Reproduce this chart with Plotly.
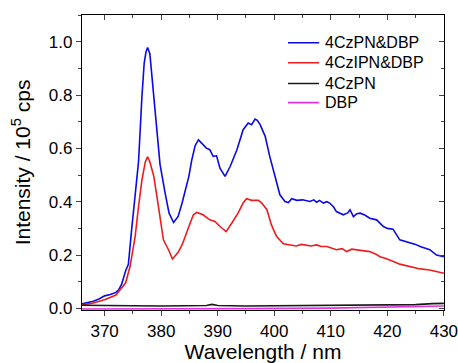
import plotly.graph_objects as go

# ---- data ----
wl_blue = [366.0, 367.0, 368.0, 369.0, 370.0, 371.0, 372.0, 372.5, 373.0, 373.7, 374.2, 374.8, 375.4, 376.0,
           376.6, 377.0, 377.3, 377.6, 378.0, 378.4, 379.0, 379.8, 380.7, 381.4, 382.2, 383.0, 383.7, 384.9,
           385.4, 386.0, 386.6, 387.2, 388.0, 388.6, 389.2, 389.8, 390.4, 391.3, 392.2, 393.4, 394.5, 395.4,
           396.0, 396.6, 397.0, 397.5, 398.4, 399.2, 400.1, 401.0, 401.9, 402.5, 403.1, 404.0, 405.0, 406.3,
           407.0, 407.5, 408.0, 408.7, 409.3, 409.8, 410.5, 411.0, 412.2, 413.0, 413.4, 414.0, 414.6, 415.2,
           416.0, 416.9, 418.1, 419.3, 420.0, 421.0, 422.2, 423.0, 424.0, 425.0, 425.8, 427.0, 427.5, 428.7,
           429.5, 430.0]
int_blue = [0.017, 0.022, 0.027, 0.035, 0.047, 0.052, 0.060, 0.070, 0.090, 0.140, 0.165, 0.300, 0.430, 0.550,
            0.795, 0.920, 0.960, 0.978, 0.955, 0.860, 0.707, 0.540, 0.432, 0.357, 0.322, 0.345, 0.395, 0.495,
            0.555, 0.610, 0.632, 0.620, 0.601, 0.595, 0.570, 0.572, 0.526, 0.495, 0.532, 0.595, 0.670, 0.695,
            0.689, 0.710, 0.705, 0.689, 0.645, 0.570, 0.495, 0.426, 0.401, 0.397, 0.411, 0.405, 0.407, 0.401,
            0.407, 0.398, 0.405, 0.395, 0.400, 0.395, 0.380, 0.363, 0.351, 0.358, 0.370, 0.344, 0.355, 0.357,
            0.350, 0.338, 0.332, 0.307, 0.300, 0.297, 0.257, 0.252, 0.245, 0.240, 0.232, 0.225, 0.220, 0.200,
            0.198, 0.194]

wl_red = [366.0, 368.0, 370.0, 371.0, 372.0, 372.5, 373.7, 374.5, 375.4, 376.0, 376.6, 377.2, 377.6, 378.0,
          378.7, 379.6, 380.4, 381.3, 382.0, 383.0, 383.7, 384.9, 385.7, 386.3, 387.4, 388.6, 389.5, 390.4,
          391.5, 392.5, 393.6, 394.5, 395.1, 396.0, 397.2, 397.8, 398.7, 399.5, 400.4, 401.6, 402.8, 403.9,
          404.8, 405.7, 406.5, 407.5, 408.3, 409.3, 410.2, 411.0, 412.0, 412.8, 413.7, 414.6, 415.8, 416.9,
          418.0, 418.7, 419.6, 420.5, 421.3, 422.2, 423.0, 424.0, 425.0, 425.8, 427.5, 428.7, 430.0]
int_red = [0.013, 0.020, 0.032, 0.040, 0.050, 0.063, 0.095, 0.157, 0.270, 0.382, 0.482, 0.550, 0.568, 0.550,
           0.495, 0.370, 0.257, 0.220, 0.185, 0.210, 0.238, 0.307, 0.351, 0.360, 0.351, 0.332, 0.326, 0.307,
           0.288, 0.320, 0.357, 0.395, 0.411, 0.405, 0.405, 0.395, 0.370, 0.313, 0.270, 0.242, 0.238, 0.234,
           0.240, 0.238, 0.234, 0.238, 0.232, 0.232, 0.225, 0.220, 0.224, 0.213, 0.222, 0.220, 0.216, 0.213,
           0.203, 0.194, 0.188, 0.179, 0.174, 0.166, 0.162, 0.157, 0.152, 0.148, 0.144, 0.138, 0.132]

wl_black = [366, 370, 375, 380, 385, 388, 389, 390, 395, 400, 405, 407, 410, 415, 420, 425, 428, 430]
int_black = [0.012, 0.010, 0.010, 0.009, 0.010, 0.011, 0.015, 0.011, 0.009, 0.010, 0.010, 0.013, 0.011,
             0.012, 0.013, 0.014, 0.018, 0.019]

wl_pink = [366, 380, 395, 410, 420, 430]
int_pink = [-0.002, -0.002, -0.001, 0.001, 0.004, 0.009]

names = ["4CzPN&DBP", "4CzIPN&DBP", "4CzPN", "DBP"]
colors = ["#0a0ae6", "#ee1c1c", "#1a1a1a", "#e033e0"]

x_ticks = [370, 380, 390, 400, 410, 420, 430]
y_ticks = [0.0, 0.2, 0.4, 0.6, 0.8, 1.0]

FONT = "Liberation Sans, Arial, sans-serif"

fig = go.Figure()
for wl, inten, nm, col in zip([wl_blue, wl_red, wl_black, wl_pink],
                              [int_blue, int_red, int_black, int_pink], names, colors):
    fig.add_trace(go.Scatter(x=wl, y=inten, mode="lines", name=nm, showlegend=False,
                             line=dict(color=col, width=1.6)))

# dummy trace for top/right mirrored axes with inward ticks
fig.add_trace(go.Scatter(x=[400], y=[0.5], xaxis="x2", yaxis="y2", mode="markers",
                         marker=dict(opacity=0), showlegend=False, hoverinfo="skip"))

# manual legend (line samples + labels), positioned in plot-area fractions
leg_x0, leg_x1, leg_tx = 0.569, 0.655, 0.666
leg_rows = [0.906, 0.838, 0.768, 0.703]
for nm, col, yy in zip(names, colors, leg_rows):
    fig.add_shape(type="line", xref="paper", yref="paper", x0=leg_x0, x1=leg_x1, y0=yy, y1=yy,
                  line=dict(color=col, width=1.6))
    fig.add_annotation(xref="paper", yref="paper", x=leg_tx, y=yy, text=nm, showarrow=False,
                       xanchor="left", yanchor="middle", font=dict(size=16, family=FONT, color="black"))

xr = [366, 430.02]
yr = [-0.006, 1.1]

fig.update_layout(
    width=458, height=363,
    margin=dict(l=82, r=14, t=15, b=53),
    paper_bgcolor="white", plot_bgcolor="white",
    font=dict(family=FONT, color="black"),
    showlegend=False,
    xaxis=dict(range=xr, tickvals=x_ticks, ticks="outside", ticklen=5, tickwidth=1,
               tickfont=dict(size=17), showgrid=False, zeroline=False, automargin=False,
               ticklabeloverflow="allow",
               showline=True, linecolor="black", linewidth=1.2, layer="below traces",
               minor=dict(dtick=5, tick0=365, ticks="outside", ticklen=3),
               title=dict(text="Wavelength / nm", font=dict(size=21), standoff=4)),
    yaxis=dict(range=yr, tickvals=y_ticks, tickformat=".1f", ticks="outside", ticklen=5, tickwidth=1,
               tickfont=dict(size=17), showgrid=False, zeroline=False, automargin=False,
               ticklabeloverflow="allow",
               showline=True, linecolor="black", linewidth=1.2, layer="below traces",
               minor=dict(dtick=0.1, tick0=0, ticks="outside", ticklen=3),
               title=dict(text="Intensity / 10<sup>5</sup> cps", font=dict(size=21), standoff=12)),
    xaxis2=dict(range=xr, overlaying="x", side="top", tickvals=x_ticks, ticks="inside", ticklen=5,
                showticklabels=False, showgrid=False, zeroline=False, showline=True, automargin=False,
                linecolor="black", linewidth=1.2,
                minor=dict(dtick=5, tick0=365, ticks="inside", ticklen=3)),
    yaxis2=dict(range=yr, overlaying="y", side="right", tickvals=y_ticks, ticks="inside", ticklen=5,
                showticklabels=False, showgrid=False, zeroline=False, showline=True, automargin=False,
                linecolor="black", linewidth=1.2,
                minor=dict(dtick=0.1, tick0=0, ticks="inside", ticklen=3)),
)

fig.write_html("out.html")
